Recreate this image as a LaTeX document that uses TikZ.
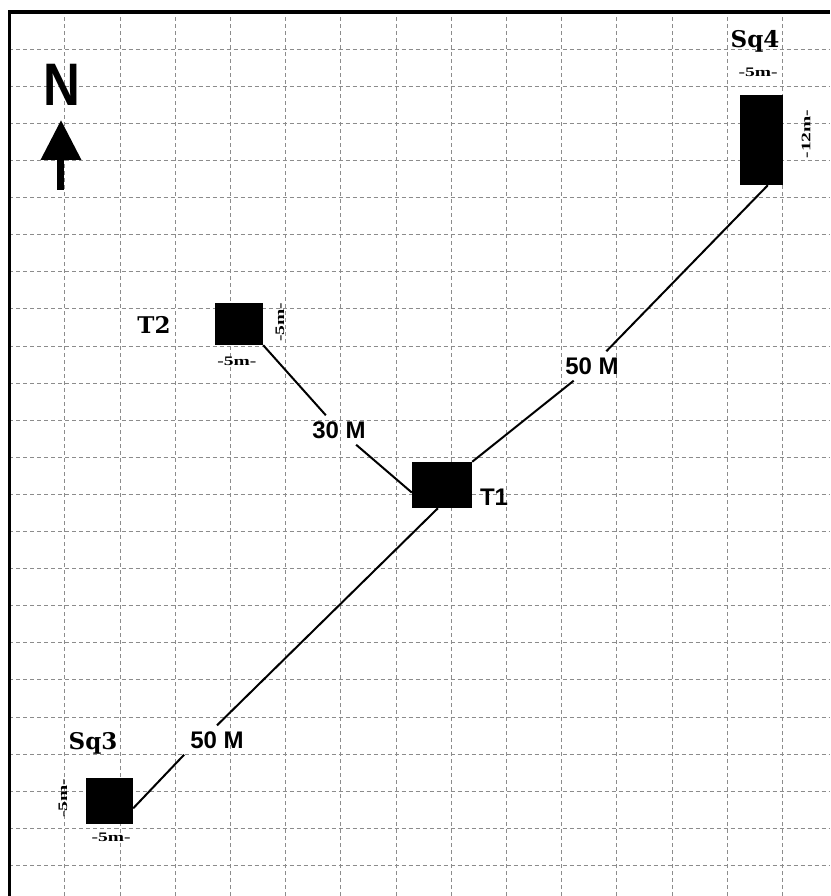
\documentclass[tikz,border=0pt]{standalone}
\usepackage{fontspec}
\setmainfont{Liberation Serif}
\newfontfamily\slabfont{DejaVu Serif}
\newfontfamily\arialfont{Liberation Sans}
\usetikzlibrary{arrows.meta}
\newcommand{\widelabel}[1]{\scalebox{1.5}[1]{#1}}

\begin{document}
\begin{tikzpicture}[x=55.2pt, y=37.1pt,
    block/.style={fill=black, inner sep=0pt},
    tag/.style={font=\slabfont\bfseries\fontsize{23}{23}\selectfont},
    dist/.style={font=\arialfont\bfseries\fontsize{24}{24}\selectfont, inner sep=6pt},
    size/.style={font=\bfseries\fontsize{13}{13}\selectfont, inner sep=1pt},
    link/.style={line width=2pt}]
    \useasboundingbox (-0.172,0.323) rectangle (14.864,-23.827);
    \draw[step=1, gray!90, line width=0.8pt, dash pattern=on 4pt off 3pt] (0,-23.827) grid (14.864,0);
    \draw[line width=3.5pt] (0,-23.827) -- (0,0) -- (14.864,0);

    % north arrow
    \node[font=\arialfont\bfseries\fontsize{60}{60}\selectfont] (north) at (0.951,-1.968) {\scalebox{0.85}[1]{N}};
    \coordinate (tail) at (0.933,-4.798);
    \coordinate (tip) at (0.933,-2.911);
    \draw[line width=7pt, -{Triangle[width=39pt, length=40pt]}] (tail) -- (tip);

    % blocks
    \node[block, minimum width=60pt, minimum height=46pt] (T1) at (7.835,-12.749) {};
    \node[block, minimum width=48pt, minimum height=42pt] (T2) at (4.158,-8.410) {};
    \node[block, minimum width=47pt, minimum height=46pt] (Sq3) at (1.812,-21.267) {};
    \node[block, minimum width=43pt, minimum height=90pt] (Sq4) at (13.623,-3.450) {};

    % names
    \node[font=\arialfont\bfseries\fontsize{24}{24}\selectfont] (lT1) at (8.777,-13.073) {T1};
    \node[tag] (lT2) at (2.618,-8.437) {T2};
    \node[tag] (lSq3) at (1.513,-19.704) {Sq3};
    \node[tag] (lSq4) at (13.505,-0.782) {Sq4};

    % sizes
    \node[size] (s4w) at (13.560,-1.617) {\widelabel{-5m-}};
    \node[size, rotate=90] (s4h) at (14.429,-3.288) {\widelabel{-12m-}};
    \node[size, rotate=90] (s2h) at (4.900,-8.356) {\widelabel{-5m-}};
    \node[size] (s2w) at (4.121,-9.407) {\widelabel{-5m-}};
    \node[size, rotate=90] (s3h) at (0.969,-21.186) {\widelabel{-5m-}};
    \node[size] (s3w) at (1.839,-22.237) {\widelabel{-5m-}};

    % distances
    \node[dist] (d30) at (5.969,-11.267) {30 M};
    \node[dist] (d50a) at (10.553,-9.542) {50 M};
    \node[dist] (d50b) at (3.759,-19.623) {50 M};

    \draw[link] (T2.south east) -- (d30) -- (T1.194);
    \draw[link] (T1.north east) -- (d50a) -- (Sq4.-82);
    \draw[link] (T1.-100) -- (d50b.north);
    \draw[link] (d50b.south west) -- (Sq3.-17);
\end{tikzpicture}
\end{document}
